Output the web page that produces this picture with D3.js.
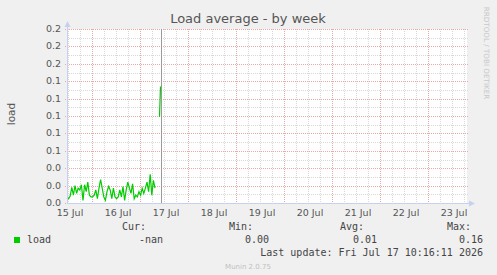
<!DOCTYPE html>
<html>
<head>
<meta charset="utf-8">
<script src="https://cdn.jsdelivr.net/npm/d3@7"></script>
<style>
  body { margin: 0; background: #f0f0f0; }
</style>
</head>
<body>
<div id="chart"></div>
<script>
// chart data
const chartTitle = "Load average - by week";
const yLabel = "load";
const rangeStart = "2026-07-15T11:30:00";
const rangeEnd = "2026-07-23T19:30:00";
const nowTime = "2026-07-17T10:16:11";
const loadStart = "2026-07-15T11:30:00";
const loadStepMinutes = 48;
const loadValues = [
    0.006, 0.005, 0.008, 0.018, 0.009, 0.020, 0.011, 0.017, 0.015, 0.021,
    0.003, 0.021, 0.013, 0.024, 0.009, 0.007, 0.007, 0.009, 0.015, 0.005,
    0.017, 0.027, 0.017, 0.007, 0.003, 0.013, 0.019, 0.015, 0.005, 0.017,
    0.007, 0.005, 0.007, 0.015, 0.007, 0.019, 0.003, 0.015, 0.024, 0.017,
    0.011, 0.022, 0.005, 0.009, 0.007, 0.013, 0.009, 0.017, 0.011, 0.017,
    0.024, 0.013, 0.033, 0.009, 0.026, 0.017
];
const spikeTimes = ["2026-07-17T09:45:00", "2026-07-17T10:15:00"];
const spikeValues = [0.099, 0.134];
const yTicks = [0, 0.02, 0.04, 0.06, 0.08, 0.10, 0.12, 0.14, 0.16, 0.18, 0.20];
const dayLabels = ["2026-07-15", "2026-07-16", "2026-07-17", "2026-07-18", "2026-07-19",
                   "2026-07-20", "2026-07-21", "2026-07-22", "2026-07-23"];
const legendName = "load";
const legendHeaders = ["Cur:", "Min:", "Avg:", "Max:"];
const legendValues = ["-nan", "0.00", "0.01", "0.16"];
const lastUpdate = "Last update: Fri Jul 17 10:16:11 2026";
const footer = "Munin 2.0.75";
const sideText = "RRDTOOL / TOBI OETIKER";

const W = 497, H = 275;
const plotLeft = 67, plotRight = 467, plotTop = 29, plotBottom = 203;
const sans = "'DejaVu Sans', sans-serif";
const mono = "'DejaVu Sans Mono', monospace";

const parseTime = d3.timeParse("%Y-%m-%dT%H:%M:%S");
const parseDay = d3.timeParse("%Y-%m-%d");

const svg = d3.select("#chart").append("svg")
    .attr("width", W)
    .attr("height", H)
    .style("font-family", sans);

svg.append("rect").attr("width", W).attr("height", H).attr("fill", "#f0f0f0");

const x = d3.scaleTime()
    .domain([parseTime(rangeStart), parseTime(rangeEnd)])
    .range([plotLeft, plotRight]);

const y = d3.scaleLinear()
    .domain([0, 0.2])
    .range([plotBottom, plotTop]);

// plot background
svg.append("rect")
    .attr("x", plotLeft).attr("y", plotTop)
    .attr("width", plotRight - plotLeft).attr("height", plotBottom - plotTop)
    .attr("fill", "#ffffff");

const grid = svg.append("g").attr("shape-rendering", "crispEdges");

// minor grid
x.ticks(d3.timeHour.every(6)).forEach(t => {
    grid.append("line")
        .attr("x1", Math.round(x(t)) + 0.5).attr("x2", Math.round(x(t)) + 0.5)
        .attr("y1", plotTop).attr("y2", plotBottom)
        .attr("stroke", "#d8d8d8").attr("stroke-dasharray", "1,1");
});
y.ticks(20).forEach(v => {
    grid.append("line")
        .attr("x1", plotLeft).attr("x2", plotRight + 2)
        .attr("y1", Math.round(y(v)) + 0.5).attr("y2", Math.round(y(v)) + 0.5)
        .attr("stroke", "#d8d8d8").attr("stroke-dasharray", "1,1");
});

// major grid
x.ticks(d3.timeDay.every(1)).forEach(t => {
    grid.append("line")
        .attr("x1", Math.round(x(t)) + 0.5).attr("x2", Math.round(x(t)) + 0.5)
        .attr("y1", plotTop).attr("y2", plotBottom + 2)
        .attr("stroke", "#eaa8a8").attr("stroke-dasharray", "1,1");
});
yTicks.forEach(v => {
    grid.append("line")
        .attr("x1", plotLeft - 2).attr("x2", plotRight + 2)
        .attr("y1", Math.round(y(v)) + 0.5).attr("y2", Math.round(y(v)) + 0.5)
        .attr("stroke", "#eaa8a8").attr("stroke-dasharray", "1,1");
});

// y tick labels
svg.append("g").selectAll("text")
    .data(yTicks)
    .join("text")
    .attr("x", 61)
    .attr("y", d => y(d) + 3)
    .attr("text-anchor", "end")
    .attr("font-size", "9.5px")
    .attr("fill", "#555")
    .text(d => d3.format(".1f")(d));

// x tick labels at noon
svg.append("g").selectAll("text")
    .data(dayLabels.map(parseDay))
    .join("text")
    .attr("x", d => x(d3.timeHour.offset(d, 12)) + 2)
    .attr("y", 215.5)
    .attr("text-anchor", "middle")
    .attr("font-size", "9.5px")
    .attr("fill", "#555")
    .text(d => d3.timeFormat("%d %b")(d));

// load line
const loadData = loadValues.map((v, i) => ({
    t: d3.timeMinute.offset(parseTime(loadStart), i * loadStepMinutes),
    v: v
}));
const spikeData = spikeTimes.map((t, i) => ({ t: parseTime(t), v: spikeValues[i] }));

const line = d3.line()
    .x(d => x(d.t))
    .y(d => y(d.v));

[loadData, spikeData].forEach(series => {
    svg.append("path")
        .datum(series)
        .attr("d", line)
        .attr("fill", "none")
        .attr("stroke", "#00cc00")
        .attr("stroke-width", 1.2);
});

// now marker
svg.append("line")
    .attr("x1", Math.round(x(parseTime(nowTime))) + 0.5)
    .attr("x2", Math.round(x(parseTime(nowTime))) + 0.5)
    .attr("y1", plotTop).attr("y2", plotBottom)
    .attr("stroke", "#999").attr("stroke-width", 1)
    .attr("shape-rendering", "crispEdges");

// axes
const axisColor = "#c8d0f0";
svg.append("line")
    .attr("x1", plotLeft + 0.5).attr("x2", plotLeft + 0.5)
    .attr("y1", plotTop - 4).attr("y2", plotBottom)
    .attr("stroke", axisColor).attr("shape-rendering", "crispEdges");
svg.append("line")
    .attr("x1", plotLeft).attr("x2", plotRight + 4)
    .attr("y1", plotBottom + 0.5).attr("y2", plotBottom + 0.5)
    .attr("stroke", axisColor).attr("shape-rendering", "crispEdges");
svg.append("path")
    .attr("d", `M${plotLeft + 0.5},${plotTop - 8} L${plotLeft - 2.5},${plotTop - 2} L${plotLeft + 3.5},${plotTop - 2} Z`)
    .attr("fill", axisColor);
svg.append("path")
    .attr("d", `M${plotRight + 8},${plotBottom + 0.5} L${plotRight + 2},${plotBottom - 2.5} L${plotRight + 2},${plotBottom + 3.5} Z`)
    .attr("fill", axisColor);

// title
svg.append("text")
    .attr("x", 248).attr("y", 23)
    .attr("text-anchor", "middle")
    .attr("font-size", "13px")
    .attr("fill", "#555")
    .text(chartTitle);

// y axis label
svg.append("text")
    .attr("transform", "translate(15,114) rotate(-90)")
    .attr("text-anchor", "middle")
    .attr("font-size", "10.5px")
    .attr("fill", "#555")
    .text(yLabel);

// side text
svg.append("text")
    .attr("transform", "translate(484,53) rotate(90)")
    .attr("text-anchor", "middle")
    .attr("font-size", "7.2px")
    .attr("fill", "#c8c8c8")
    .text(sideText);

// legend
svg.append("rect")
    .attr("x", 14).attr("y", 237).attr("width", 6).attr("height", 6)
    .attr("fill", "#00cc00");
svg.append("text")
    .attr("x", 27).attr("y", 243)
    .style("font-family", mono).attr("font-size", "10px").attr("fill", "#444")
    .text(legendName);

const headerX = [146, 253, 364, 471];
const valueX = [163, 269, 377, 483];
legendHeaders.forEach((h, i) => {
    svg.append("text")
        .attr("x", headerX[i]).attr("y", 230)
        .attr("text-anchor", "end")
        .style("font-family", mono).attr("font-size", "10px").attr("fill", "#444")
        .text(h);
    svg.append("text")
        .attr("x", valueX[i]).attr("y", 243)
        .attr("text-anchor", "end")
        .style("font-family", mono).attr("font-size", "10px").attr("fill", "#444")
        .text(legendValues[i]);
});

svg.append("text")
    .attr("x", 483).attr("y", 256)
    .attr("text-anchor", "end")
    .style("font-family", mono).attr("font-size", "10px").attr("fill", "#444")
    .text(lastUpdate);

svg.append("text")
    .attr("x", 248).attr("y", 269)
    .attr("text-anchor", "middle")
    .attr("font-size", "7px")
    .attr("fill", "#c0c0c0")
    .text(footer);
</script>
</body>
</html>
